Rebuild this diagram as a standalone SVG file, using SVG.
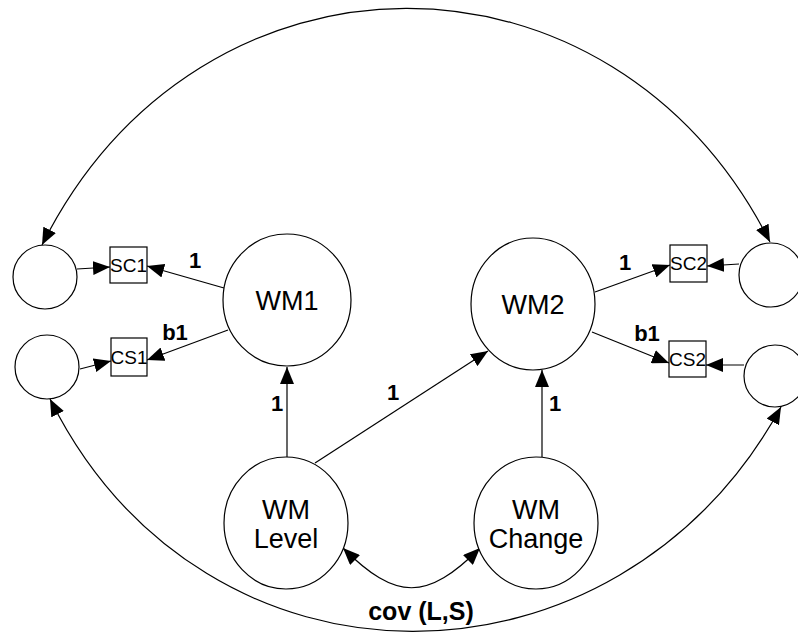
<svg xmlns="http://www.w3.org/2000/svg" width="798" height="634" viewBox="0 0 798 634">
<style>
.n{fill:#fff;stroke:#000;stroke-width:1.2}
.b{fill:#fff;stroke:#000;stroke-width:1.2}
.t{font-family:"Liberation Sans",Arial,sans-serif;font-size:27px;text-anchor:middle;fill:#000}
.bt{font-family:"Liberation Sans",Arial,sans-serif;font-size:19px;text-anchor:middle;fill:#000}
.l{font-family:"Liberation Sans",Arial,sans-serif;font-size:22px;font-weight:bold;text-anchor:middle;fill:#000}
.c{fill:none;stroke:#000;stroke-width:1.2}
</style>
<defs>
<marker id="ah" markerUnits="userSpaceOnUse" markerWidth="18" markerHeight="14" refX="17" refY="7" orient="auto-start-reverse">
<path d="M0,0 L17,7 L0,14 z" fill="#000"/>
</marker>
</defs>
<g id="connectors">
<path class="c" d="M42,245 C200,-70 612,-70 770,242" marker-start="url(#ah)" marker-end="url(#ah)"/>
<path class="c" d="M50,399 C205,710 617,705 781,407" marker-start="url(#ah)" marker-end="url(#ah)"/>
<path class="c" d="M343,548 C396,601 427,601 480,548" marker-start="url(#ah)" marker-end="url(#ah)"/>
<path class="c" d="M77,269 L110,267" marker-end="url(#ah)"/>
<path class="c" d="M224,288 L147,266" marker-end="url(#ah)"/>
<path class="c" d="M228,330 L147,360" marker-end="url(#ah)"/>
<path class="c" d="M80,369 L111,361" marker-end="url(#ah)"/>
<path class="c" d="M287,457 L287,367" marker-end="url(#ah)"/>
<path class="c" d="M315,463 L488,351" marker-end="url(#ah)"/>
<path class="c" d="M542,457 L542,370" marker-end="url(#ah)"/>
<path class="c" d="M595,292 L670,265" marker-end="url(#ah)"/>
<path class="c" d="M592,332 L669,363" marker-end="url(#ah)"/>
<path class="c" d="M739,264 L707,266" marker-end="url(#ah)"/>
<path class="c" d="M744,365 L706,365" marker-end="url(#ah)"/>
<text class="l" x="195" y="268">1</text>
<text class="l" x="175" y="340">b1</text>
<text class="l" x="277" y="411">1</text>
<text class="l" x="393" y="400">1</text>
<text class="l" x="555" y="411">1</text>
<text class="l" x="625" y="270">1</text>
<text class="l" x="647" y="341">b1</text>
<text class="l" x="421" y="620" style="font-size:25px">cov (L,S)</text>
</g>
<g id="e1"><circle class="n" cx="45" cy="277" r="32"/></g>
<g id="e2"><circle class="n" cx="47" cy="367" r="32"/></g>
<g id="e3"><circle class="n" cx="771" cy="275" r="32"/></g>
<g id="e4"><circle class="n" cx="775" cy="376" r="31"/></g>
<g id="SC1"><rect class="b" x="110" y="247" width="37" height="36"/><text class="bt" x="128.5" y="272">SC1</text></g>
<g id="CS1"><rect class="b" x="111" y="338" width="36" height="38"/><text class="bt" x="129" y="364">CS1</text></g>
<g id="SC2"><rect class="b" x="670" y="245" width="37" height="37"/><text class="bt" x="688.5" y="270">SC2</text></g>
<g id="CS2"><rect class="b" x="669" y="341" width="37" height="36"/><text class="bt" x="687.5" y="366">CS2</text></g>
<g id="WM1"><ellipse class="n" cx="287" cy="300" rx="64" ry="66"/><text class="t" x="287" y="310">WM1</text></g>
<g id="WM2"><ellipse class="n" cx="533" cy="304" rx="62" ry="66"/><text class="t" x="533" y="314">WM2</text></g>
<g id="WMLevel"><ellipse class="n" cx="286" cy="523" rx="62" ry="66"/><text class="t" x="286" y="519">WM</text><text class="t" x="286" y="548">Level</text></g>
<g id="WMChange"><ellipse class="n" cx="536" cy="523" rx="62" ry="66"/><text class="t" x="536" y="519">WM</text><text class="t" x="536" y="548">Change</text></g>
</svg>
